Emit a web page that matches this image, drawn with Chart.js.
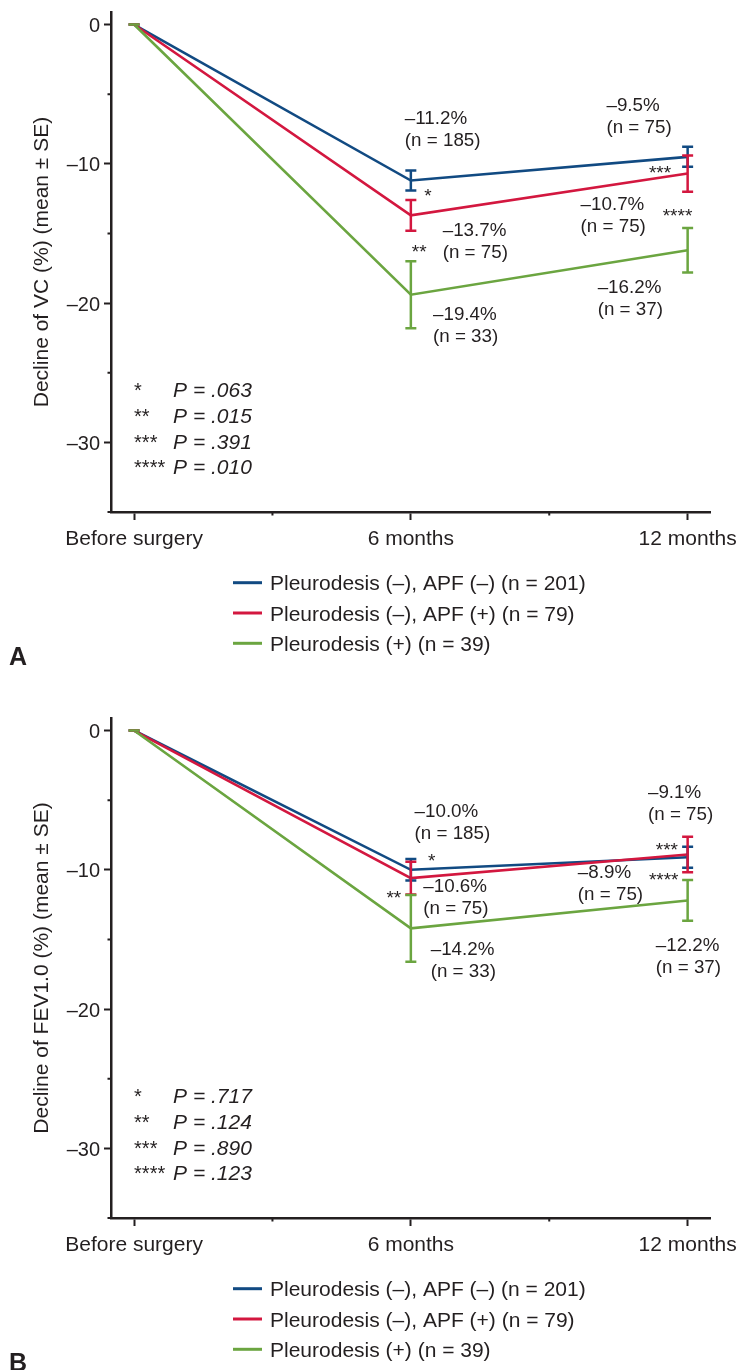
<!DOCTYPE html>
<html><head><meta charset="utf-8">
<script src="https://cdn.jsdelivr.net/npm/chart.js@4.4.1/dist/chart.umd.min.js"></script>
<style>
html,body{margin:0;padding:0;background:#fff;}
#wrap{position:relative;width:739px;height:1370px;overflow:hidden;background:#fff;}
canvas{position:absolute;left:0;display:block;}
</style></head><body>
<div id="wrap">
<canvas id="cA" width="739" height="706" style="top:0;width:739px;height:706px"></canvas>
<canvas id="cB" width="739" height="706" style="top:706px;width:739px;height:706px"></canvas>
</div>
<script>
// ---------- data ----------
const categories = ['Before surgery', '6 months', '12 months'];
const months = [0, 6, 12];
const seriesNames = ['Pleurodesis (–), APF (–) (n = 201)', 'Pleurodesis (–), APF (+) (n = 79)', 'Pleurodesis (+) (n = 39)'];
const seriesColors = ['#114a82', '#d3173f', '#6ba540'];

// Panel A: decline of VC (%)
const vcNoPleuNoApf = [0, -11.2, -9.5];
const vcNoPleuNoApfSE = [0, 0.72, 0.72];
const vcNoPleuApf = [0, -13.7, -10.7];
const vcNoPleuApfSE = [0, 1.1, 1.3];
const vcPleu = [0, -19.4, -16.2];
const vcPleuSE = [0, 2.4, 1.6];

// Panel B: decline of FEV1.0 (%)
const fevNoPleuNoApf = [0, -10.0, -9.1];
const fevNoPleuNoApfSE = [0, 0.77, 0.75];
const fevNoPleuApf = [0, -10.6, -8.9];
const fevNoPleuApfSE = [0, 1.18, 1.28];
const fevPleu = [0, -14.2, -12.2];
const fevPleuSE = [0, 2.4, 1.46];

const yTicks = [-35, -30, -25, -20, -15, -10, -5, 0];
const yMajor = [-30, -20, -10, 0];
const xTicks = [0, 3, 6, 9, 12];

const starLabels = ['*', '**', '***', '****'];
const pValuesA = ['P = .063', 'P = .015', 'P = .391', 'P = .010'];
const pValuesB = ['P = .717', 'P = .124', 'P = .890', 'P = .123'];

// value annotations: [lines, anchor month, anchor value]
const notesA = [
  [['–11.2%', '(n = 185)'], 5.87, -6.64],
  [['*'], 6.29, -11.93, 'star'],
  [['–13.7%', '(n = 75)'], 6.69, -14.70],
  [['**'], 6.02, -15.95, 'star'],
  [['–19.4%', '(n = 33)'], 6.48, -20.73],
  [['–9.5%', '(n = 75)'], 10.24, -5.73],
  [['***'], 11.16, -10.28, 'star'],
  [['–10.7%', '(n = 75)'], 9.68, -12.84],
  [['****'], 11.46, -13.37, 'star'],
  [['–16.2%', '(n = 37)'], 10.05, -18.82]
];
const notesB = [
  [['–10.0%', '(n = 185)'], 6.08, -5.69],
  [['*'], 6.37, -9.0, 'star'],
  [['–10.6%', '(n = 75)'], 6.27, -11.13],
  [['**'], 5.47, -11.67, 'star'],
  [['–14.2%', '(n = 33)'], 6.43, -15.62],
  [['–9.1%', '(n = 75)'], 11.14, -4.38],
  [['***'], 11.31, -8.26, 'star'],
  [['–8.9%', '(n = 75)'], 9.62, -10.12],
  [['****'], 11.16, -10.41, 'star'],
  [['–12.2%', '(n = 37)'], 11.31, -15.33]
];

// ---------- drawing ----------
const FONT = "'Liberation Sans', Arial, Helvetica, sans-serif";
const DARK = '#231f20';

const extrasPlugin = {
  id: 'extras',
  afterDatasetsDraw(chart) {
    const ctx = chart.ctx, xs = chart.scales.x, ys = chart.scales.y;
    ctx.save();
    ctx.lineWidth = 2.5;
    chart.data.datasets.forEach((ds) => {
      ctx.strokeStyle = ds.borderColor;
      ds.data.forEach((p, j) => {
        const se = ds.se[j];
        const px = xs.getPixelForValue(p.x);
        const yt = ys.getPixelForValue(p.y + se);
        const yb = ys.getPixelForValue(p.y - se);
        ctx.beginPath();
        ctx.moveTo(px, yt); ctx.lineTo(px, yb);
        ctx.moveTo(px - 5.5, yt); ctx.lineTo(px + 5.5, yt);
        ctx.moveTo(px - 5.5, yb); ctx.lineTo(px + 5.5, yb);
        ctx.stroke();
      });
    });
    ctx.restore();
  },
  afterDraw(chart) {
    const o = chart.options.plugins.extras;
    const ctx = chart.ctx, xs = chart.scales.x, ys = chart.scales.y, ca = chart.chartArea;
    ctx.save();
    // minor ticks
    ctx.strokeStyle = DARK; ctx.lineWidth = 2;
    ctx.beginPath();
    yTicks.filter(v => !yMajor.includes(v)).forEach(v => {
      const py = ys.getPixelForValue(v);
      ctx.moveTo(ca.left - 3.5, py); ctx.lineTo(ca.left, py);
    });
    xTicks.filter(v => !months.includes(v)).forEach(v => {
      const px = xs.getPixelForValue(v);
      ctx.moveTo(px, ca.bottom); ctx.lineTo(px, ca.bottom + 3.5);
    });
    ctx.stroke();

    ctx.fillStyle = DARK;
    ctx.textBaseline = 'alphabetic';
    ctx.textAlign = 'left';
    // value annotations
    o.notes.forEach(n => {
      const isStar = n[3] === 'star';
      const fs = isStar ? 19 : 18.8;
      ctx.font = fs + 'px ' + FONT;
      const x0 = xs.getPixelForValue(n[1]);
      const y0 = ys.getPixelForValue(n[2]);
      n[0].forEach((t, k) => {
        const base = y0 + k * 22 + (isStar ? 0.57 * fs : 0.36 * fs);
        ctx.fillText(t, x0, base);
      });
    });
    // p-value block
    const bx = xs.getPixelForValue(0);
    const by = ys.getPixelForValue(-26.24);
    o.pvals.forEach((t, k) => {
      const base = by + k * 25.6 + 7.4;
      ctx.font = '20px ' + FONT;
      ctx.fillText(starLabels[k], bx, base);
      ctx.font = 'italic 21px ' + FONT;
      ctx.fillText(t, bx + 39, base);
    });
    // legend
    const lx = ca.left + 122;
    seriesNames.forEach((name, i) => {
      const cy = ca.bottom + 70.7 + i * 30.3;
      ctx.strokeStyle = seriesColors[i]; ctx.lineWidth = 3;
      ctx.beginPath(); ctx.moveTo(lx, cy); ctx.lineTo(lx + 29, cy); ctx.stroke();
      ctx.font = '21px ' + FONT;
      ctx.fillText(name, lx + 37, cy + 7.6);
    });
    // panel letter
    ctx.font = 'bold 25px ' + FONT;
    ctx.fillText(o.panel, 9, 665);
    ctx.restore();
  }
};

function makeChart(id, series, ses, title, panel, notes, pvals) {
  const order = [2, 1, 0];
  return new Chart(document.getElementById(id), {
    type: 'line',
    data: {
      datasets: series.map((vals, i) => ({
        label: seriesNames[i],
        data: months.map((m, j) => ({ x: m, y: vals[j] })),
        se: ses[i],
        borderColor: seriesColors[i],
        backgroundColor: seriesColors[i],
        borderWidth: 2.6,
        pointRadius: 0,
        tension: 0,
        order: order[i],
        clip: false
      }))
    },
    options: {
      responsive: false,
      animation: false,
      devicePixelRatio: 1,
      layout: { padding: { left: 0, right: 28.3, top: 12, bottom: 0 } },
      plugins: {
        legend: { display: false },
        tooltip: { enabled: false },
        extras: { notes: notes, pvals: pvals, panel: panel }
      },
      scales: {
        x: {
          type: 'linear', min: -0.5, max: 12.5,
          afterBuildTicks: s => { s.ticks = xTicks.map(v => ({ value: v })); },
          afterFit: s => { s.height = 194; s.paddingLeft = 0; s.paddingRight = 0; },
          ticks: {
            autoSkip: false, maxRotation: 0, padding: 7, color: DARK,
            font: { family: FONT, size: 21 },
            callback: v => { const i = months.indexOf(v); return i >= 0 ? categories[i] : ''; }
          },
          grid: {
            drawOnChartArea: false, tickLength: 8, tickWidth: 2,
            tickColor: c => (c.tick && months.includes(c.tick.value)) ? DARK : 'rgba(0,0,0,0)'
          },
          border: { color: DARK, width: 2.5 }
        },
        y: {
          type: 'linear', min: -35, max: 0.9,
          afterBuildTicks: s => { s.ticks = yTicks.map(v => ({ value: v })); },
          afterFit: s => { s.width = 111; s.paddingTop = 0; s.paddingBottom = 0; },
          ticks: {
            padding: 4, color: DARK, labelOffset: 2,
            font: { family: FONT, size: 20 },
            callback: v => yMajor.includes(v) ? (v === 0 ? '0' : '–' + Math.abs(v)) : ''
          },
          grid: {
            drawOnChartArea: false, tickLength: 7, tickWidth: 2,
            tickColor: c => (c.tick && yMajor.includes(c.tick.value)) ? DARK : 'rgba(0,0,0,0)'
          },
          border: { color: DARK, width: 2.5 },
          title: {
            display: true, text: title, color: DARK,
            font: { family: FONT, size: 21 },
            padding: { top: 30, bottom: 0 }
          }
        }
      }
    },
    plugins: [extrasPlugin]
  });
}

makeChart('cA',
  [vcNoPleuNoApf, vcNoPleuApf, vcPleu],
  [vcNoPleuNoApfSE, vcNoPleuApfSE, vcPleuSE],
  'Decline of VC (%) (mean ± SE)', 'A', notesA, pValuesA);
makeChart('cB',
  [fevNoPleuNoApf, fevNoPleuApf, fevPleu],
  [fevNoPleuNoApfSE, fevNoPleuApfSE, fevPleuSE],
  'Decline of FEV1.0 (%) (mean ± SE)', 'B', notesB, pValuesB);
</script>
</body></html>
